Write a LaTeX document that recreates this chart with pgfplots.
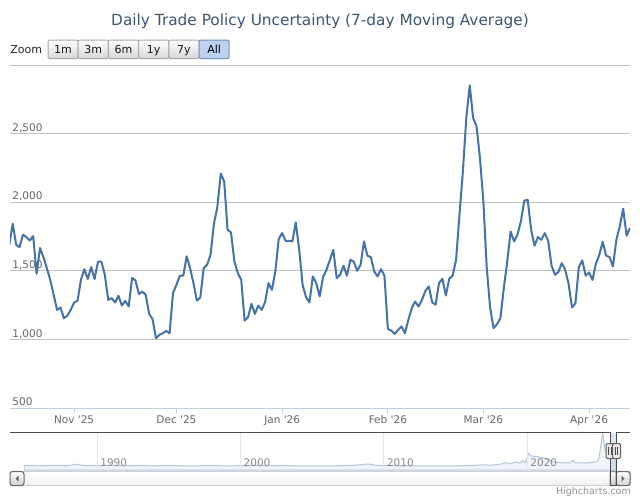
\documentclass[border=0pt]{standalone}
\usepackage{pgfplots}
\pgfplotsset{compat=1.18}
\usepackage{fontspec}
\setmainfont{DejaVu Sans}

\definecolor{titlecol}{HTML}{3E576F}
\definecolor{labelcol}{HTML}{666666}
\definecolor{gridcol}{HTML}{C0C0C0}
\definecolor{axiscol}{HTML}{C0D0E0}
\definecolor{seriescol}{HTML}{4572A7}
\definecolor{navlabel}{HTML}{888888}
\definecolor{navgrid}{HTML}{E8E8E8}
\definecolor{btnborder}{HTML}{A8A8A8}
\definecolor{selfill}{HTML}{BCD2EF}
\definecolor{selborder}{HTML}{7391BA}
\definecolor{maskcol}{HTML}{80B3EC}
\definecolor{handlefill}{HTML}{EBE7E8}
\definecolor{creditcol}{HTML}{909090}

% daily index, 7-day moving average; x = days since 1 Nov 2025
\pgfplotstableread{
x y
-19 1690
-18 1843
-17 1690
-16 1673
-15 1763
-14 1746
-13 1721
-12 1753
-11 1478
-10 1666
-9 1600
-8 1520
-7 1434
-6 1325
-5 1215
-4 1232
-3 1155
-2 1172
-1 1215
0 1269
1 1281
2 1434
3 1512
4 1440
5 1527
6 1440
7 1566
8 1566
9 1471
10 1288
11 1301
12 1269
13 1318
14 1247
15 1281
16 1240
17 1447
18 1430
19 1330
20 1349
21 1325
22 1186
23 1148
24 1009
25 1033
26 1045
27 1062
28 1045
29 1337
30 1398
31 1464
32 1464
33 1605
34 1520
35 1410
36 1283
37 1305
38 1520
39 1544
40 1617
41 1842
42 1965
43 2208
44 2152
45 1799
46 1780
47 1568
48 1483
49 1434
50 1137
51 1162
52 1259
53 1186
54 1247
55 1215
56 1272
57 1410
58 1361
59 1495
60 1731
61 1775
62 1719
63 1719
64 1714
65 1853
66 1653
67 1398
68 1308
69 1269
70 1459
71 1410
72 1313
73 1454
74 1507
75 1580
76 1653
77 1447
78 1471
79 1537
80 1464
81 1580
82 1568
83 1500
84 1544
85 1714
86 1610
87 1600
88 1495
89 1459
90 1512
91 1464
92 1075
93 1065
94 1040
95 1069
96 1094
97 1045
98 1142
99 1228
100 1276
101 1240
102 1288
103 1354
104 1386
105 1271
106 1252
107 1410
108 1442
109 1320
110 1442
111 1464
112 1580
113 1909
114 2225
115 2615
116 2851
117 2615
118 2553
119 2323
120 2007
121 1520
122 1228
123 1082
124 1111
125 1155
126 1374
127 1568
128 1787
129 1714
130 1763
131 1860
132 2011
133 2018
134 1800
135 1683
136 1746
137 1726
138 1775
139 1719
140 1537
141 1471
142 1491
143 1556
144 1507
145 1405
146 1232
147 1264
148 1527
149 1576
150 1464
151 1488
152 1434
153 1551
154 1617
155 1712
156 1610
157 1600
158 1532
159 1726
160 1824
161 1953
162 1756
163 1812
}\dailydata

% long history shown in the navigator (year, scaled level)
\pgfplotstableread{
yr h
1984.9 4.5
1986.0 4.2
1987.0 4.6
1988.0 4.4
1988.6 5.8
1989.0 4.6
1990.0 4.3
1991.0 4.9
1992.0 4.2
1993.0 4.4
1994.0 4.1
1995.0 4.6
1996.0 4.0
1997.0 4.2
1998.0 4.5
1999.0 4.1
2000.0 4.3
2001.0 4.6
2002.0 4.2
2003.0 4.4
2004.0 4.0
2005.0 4.2
2006.0 4.1
2007.0 4.3
2008.0 4.8
2008.9 6.0
2009.5 4.6
2010.0 4.3
2011.0 4.4
2012.0 4.1
2013.0 4.0
2014.0 4.2
2015.0 4.1
2016.0 4.4
2016.9 5.2
2017.5 4.8
2018.2 6.0
2018.5 7.5
2018.8 6.2
2019.2 8.0
2019.5 7.0
2019.7 9.5
2019.9 7.4
2020.1 16.5
2020.3 14.0
2020.6 13.5
2020.9 12.8
2021.2 12.0
2021.5 11.0
2021.7 8.5
2022.0 7.8
2022.5 7.2
2023.0 7.0
2023.2 9.8
2023.3 7.4
2023.8 7.0
2024.2 7.2
2024.6 7.6
2024.9 9.0
2025.0 11.5
2025.15 25.0
2025.27 37.0
2025.35 28.0
2025.45 20.0
2025.6 15.0
2025.8 11.0
2026.0 12.5
2026.1 16.0
2026.2 12.0
}\navdata

\begin{document}
\begin{tikzpicture}
\path[use as bounding box, fill=white] (0,0) rectangle (480pt,-375pt);

% header: title and range selector
\begin{scope}[x=0.75pt,y=-0.75pt]
  \node[anchor=base, inner sep=0, text=titlecol,
        font=\fontsize{11.5pt}{13pt}\selectfont] at (320,25)
        {Daily Trade Policy Uncertainty (7-day Moving Average)};
  \node[anchor=base west, inner sep=0, text=black!85,
        font=\fontsize{8.25pt}{10pt}\selectfont] at (10,53.5) {Zoom};
  \foreach \lab [count=\i from 0] in {1m,3m,6m,1y,7y} {
    \pgfmathsetmacro{\xa}{48+30.2*\i}
    \pgfmathsetmacro{\xb}{48+30.2*(\i+1)}
    \shade[top color=white, bottom color=black!16, draw=btnborder,
           line width=0.75pt, rounded corners=1pt]
          (\xa,40) rectangle (\xb,58.5);
    \node[anchor=base, inner sep=0, text=black!90,
          font=\fontsize{8.25pt}{10pt}\selectfont]
          at ({(\xa+\xb)/2},53.5) {\lab};
  }
  \filldraw[fill=selfill, draw=selborder, line width=0.75pt, rounded corners=1pt]
        (199,40) rectangle (229.2,58.5);
  \node[anchor=base, inner sep=0, text=black,
        font=\fontsize{8.25pt}{10pt}\selectfont] at (214.1,53.5) {All};
\end{scope}

% main chart
\begin{axis}[
  at={(7.5pt,-306pt)}, anchor=south west,
  width=465pt, height=257.25pt, scale only axis,
  xmin=-18.8, xmax=163, ymin=500, ymax=3000,
  enlargelimits=false,
  separate axis lines,
  axis x line*=bottom, axis y line*=left,
  x axis line style={draw=axiscol, line width=0.75pt},
  y axis line style={draw=none},
  ytick={500,1000,1500,2000,2500,3000},
  yticklabels={500,{1,000},{1,500},{2,000},{2,500},{}},
  ytick style={draw=none},
  ymajorgrids,
  grid style={draw=gridcol, line width=0.75pt},
  yticklabel style={anchor=base west, inner sep=0pt, xshift=1.6pt, yshift=1.8pt},
  xtick={0,30,61,92,120,151},
  xticklabels={Nov \textquotesingle25, Dec \textquotesingle25, Jan \textquotesingle26,
               Feb \textquotesingle26, Mar \textquotesingle26, Apr \textquotesingle26},
  xtick align=outside,
  major tick length=3.75pt,
  xtick style={draw=axiscol, line width=0.75pt},
  xticklabel style={anchor=base, inner sep=0pt, yshift=-7.6pt},
  tick label style={font=\fontsize{7.875pt}{9pt}\selectfont, text=labelcol},
]
\addplot[seriescol, line width=1.5pt, line join=round, mark=none]
  table[x=x, y=y] {\dailydata};
\end{axis}

% navigator
\begin{axis}[
  at={(18pt,-352.5pt)}, anchor=south west,
  width=444pt, height=28.5pt, scale only axis,
  xmin=1984.9, xmax=2026.2, ymin=0, ymax=38,
  enlargelimits=false,
  axis on top,
  axis line style={draw=none},
  ytick=\empty,
  xtick={1990,2000,2010,2020},
  xticklabels={1990,2000,2010,2020},
  xtick style={draw=none},
  xmajorgrids,
  grid style={draw=navgrid, line width=0.75pt},
  xticklabel style={anchor=base west, inner sep=0pt, xshift=2.25pt, yshift=2.6pt,
                    text=navlabel, font=\fontsize{7.875pt}{9pt}\selectfont},
]
\addplot[draw=seriescol!40, fill=seriescol, fill opacity=0.08, line width=0.75pt, mark=none]
  table[x=yr, y=h] {\navdata} \closedcycle;
\end{axis}

% navigator outline, handles, scrollbar and credits
\begin{scope}[x=0.75pt,y=-0.75pt]
  \fill[maskcol, opacity=0.3] (610,432.5) rectangle (616,471);
  % scrollbar track
  \shade[top color=white, bottom color=black!6, draw=black!18, line width=0.75pt]
        (10,471.5) rectangle (630,485.5);
  % scrollbar thumb
  \shade[top color=white, bottom color=black!22, draw=black!45, line width=0.75pt,
         rounded corners=1pt] (610,471.5) rectangle (616.5,485.5);
  % arrow buttons
  \shade[top color=white, bottom color=black!18, draw=black!60, line width=0.75pt,
         rounded corners=2pt] (10,471.5) rectangle (24,485.5);
  \fill[black!60] (18.5,475.5) -- (18.5,481.5) -- (15.5,478.5) -- cycle;
  \shade[top color=white, bottom color=black!18, draw=black!60, line width=0.75pt,
         rounded corners=2pt] (616,471.5) rectangle (630,485.5);
  \fill[black!60] (621.5,475.5) -- (621.5,481.5) -- (624.5,478.5) -- cycle;
  % outline
  \draw[black!70, line width=0.75pt]
        (10,432.5) -- (610,432.5) -- (610,485.5) -- (616.5,485.5)
        -- (616.5,432.5) -- (630,432.5);
  % handles
  \foreach \hx in {610,616.5} {
    \filldraw[fill=handlefill, draw=black!60, line width=0.75pt, rounded corners=1pt]
          (\hx-4,443.5) rectangle (\hx+4,458.5);
    \draw[black!70, line width=0.75pt] (\hx-1.2,447) -- (\hx-1.2,455)
          (\hx+1.2,447) -- (\hx+1.2,455);
  }
  \node[anchor=base east, inner sep=0, text=creditcol,
        font=\fontsize{7.1pt}{8.5pt}\selectfont] at (631,494.5) {Highcharts.com};
\end{scope}
\end{tikzpicture}
\end{document}
